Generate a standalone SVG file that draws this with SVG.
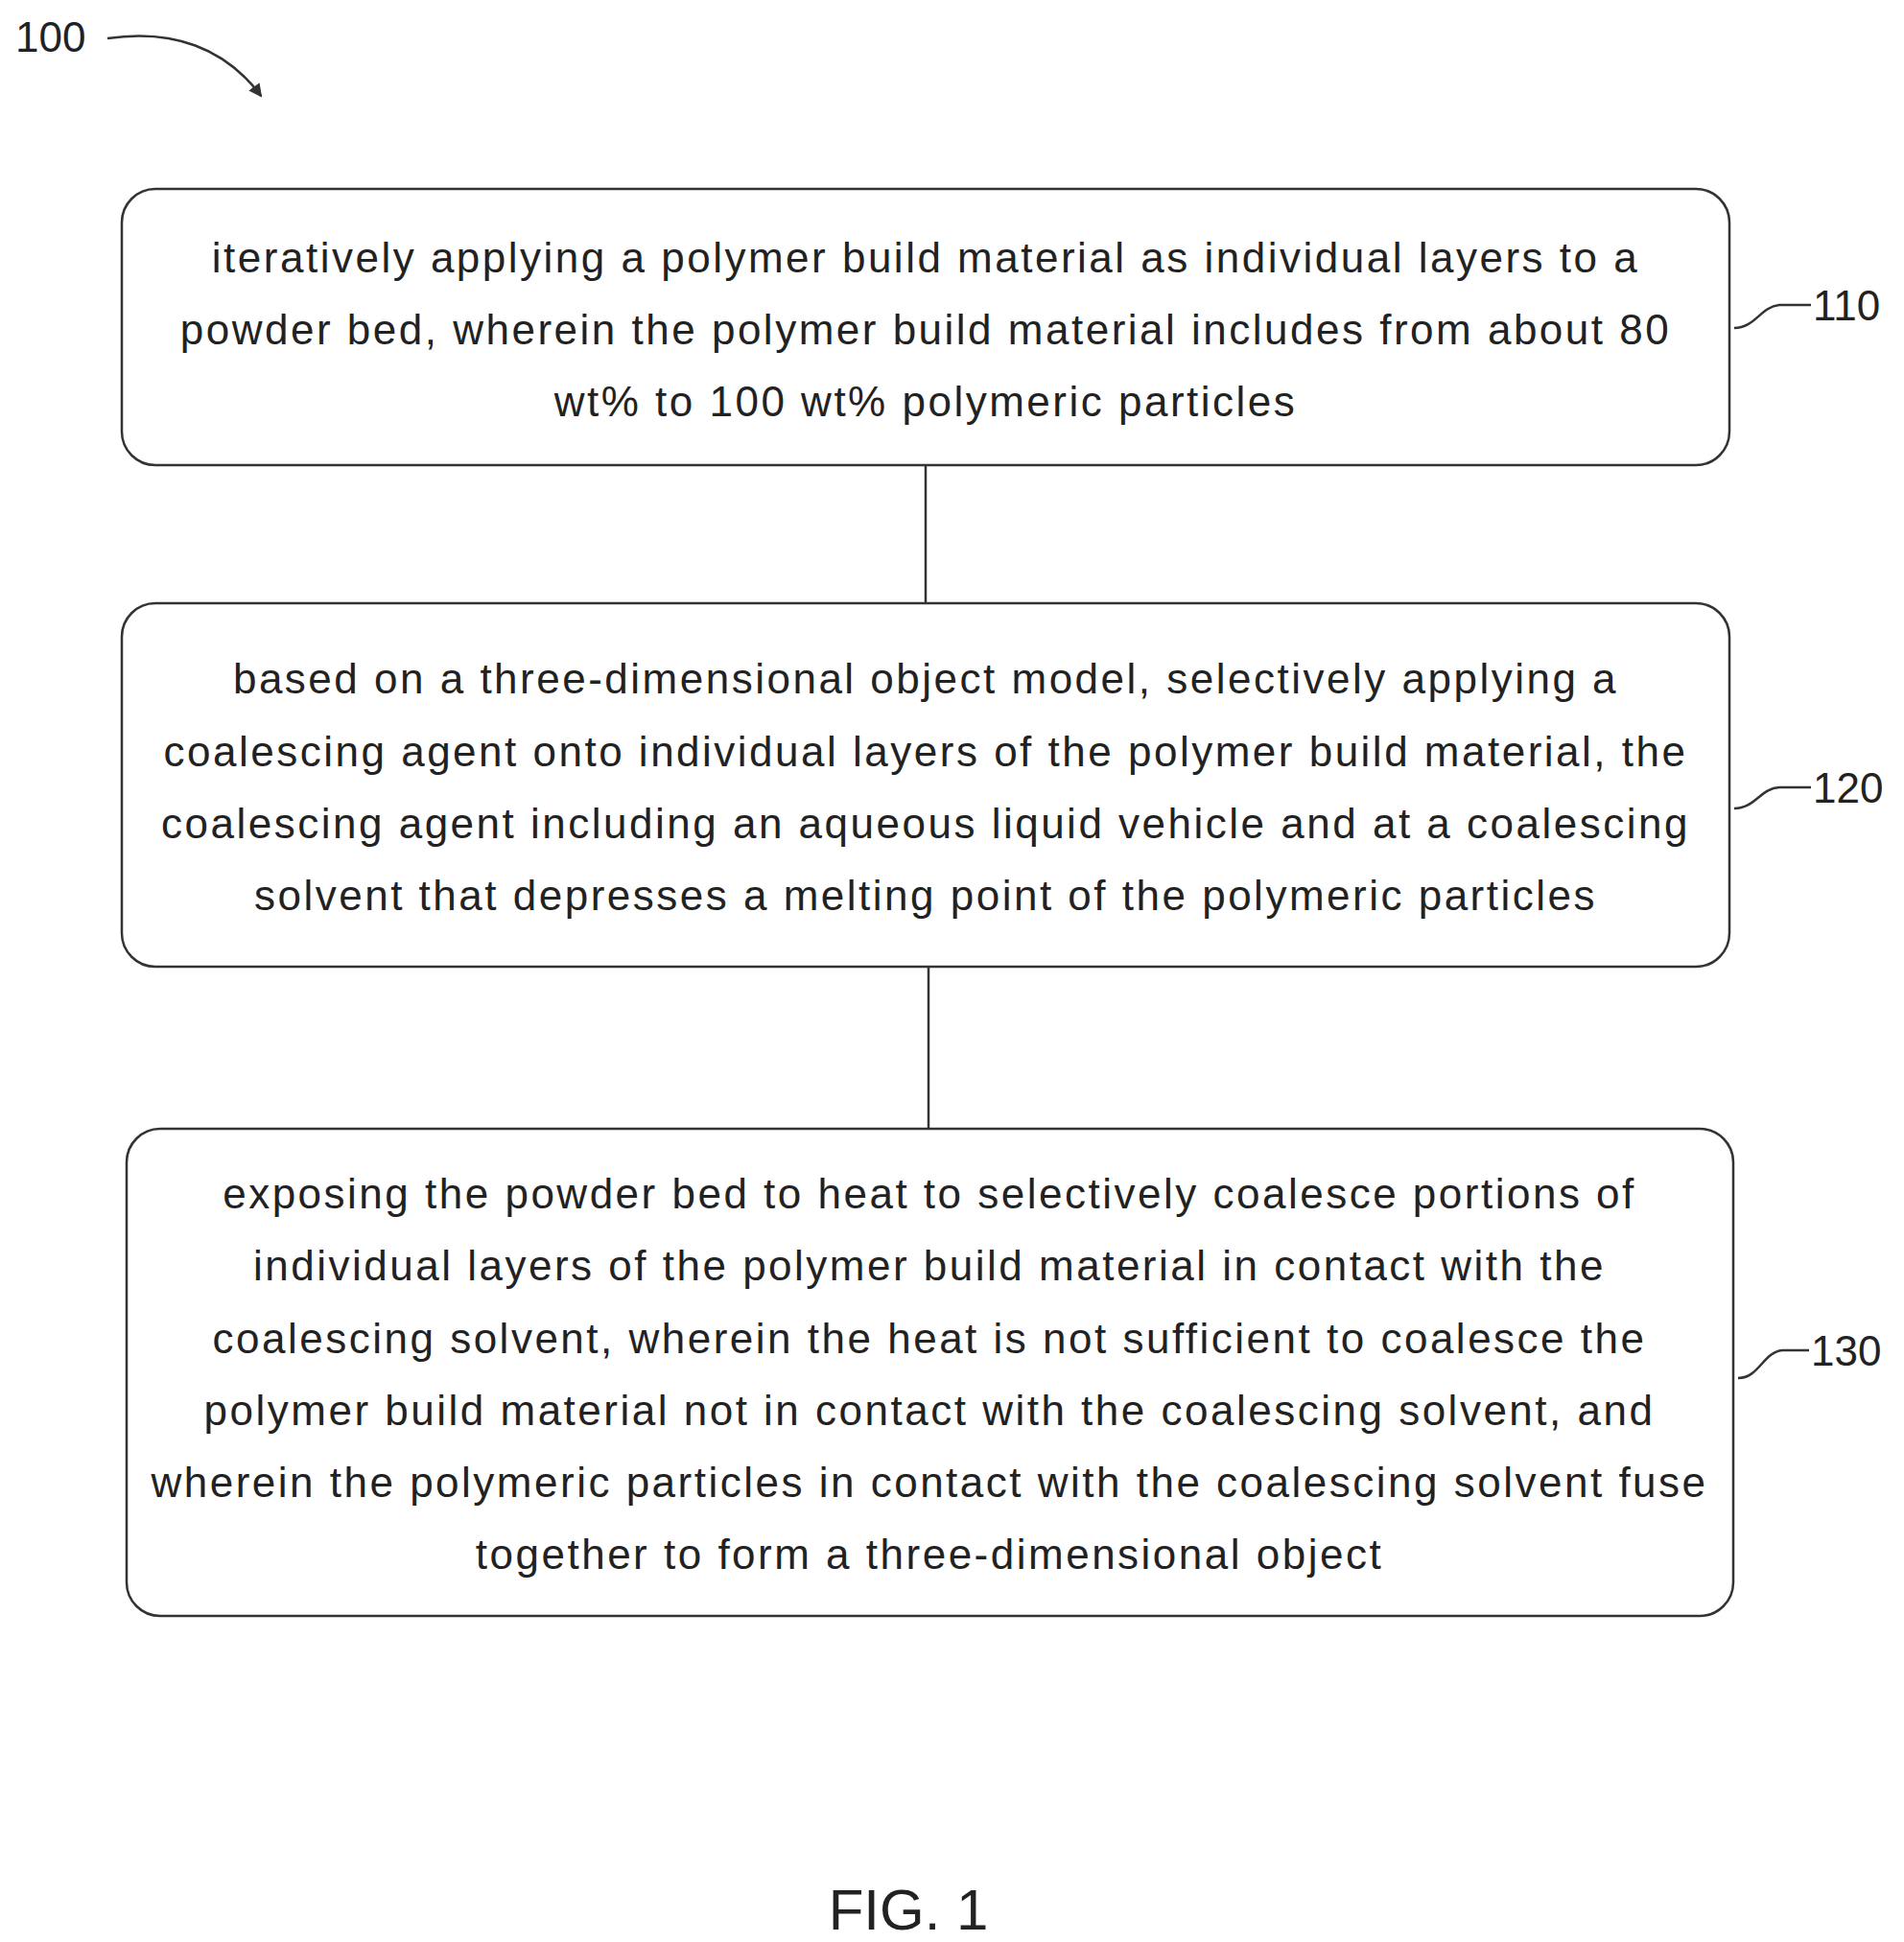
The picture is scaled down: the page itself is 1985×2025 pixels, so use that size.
<svg xmlns="http://www.w3.org/2000/svg" width="1985" height="2025" viewBox="0 0 1985 2025">
<style>
.box{fill:#fff;stroke:#333;stroke-width:2.5}
.t{font-family:"Liberation Sans",Arial,sans-serif;font-size:44px;fill:#222;text-anchor:middle;letter-spacing:2.5px}
.lbl{font-family:"Liberation Sans",Arial,sans-serif;font-size:44px;fill:#222}
.ln{fill:none;stroke:#333;stroke-width:2.5}
</style>
<defs><marker id="ah" markerWidth="14" markerHeight="14" refX="12" refY="7" orient="auto" markerUnits="userSpaceOnUse"><path d="M0,0 L14,7 L0,14 Z" fill="#333"/></marker></defs>
<rect width="1985" height="2025" fill="#fff"/>
<g id="ref100"><text class="lbl" x="16" y="54">100</text><path class="ln" d="M112,40 C180,30 235,50 272,100" marker-end="url(#ah)"/></g>
<g id="connectors"><line class="ln" x1="965" y1="485" x2="965" y2="629"/><line class="ln" x1="968" y1="1008" x2="968" y2="1177"/></g>
<g id="n110"><rect class="box" x="127" y="197" width="1676" height="288" rx="35"/>
<text class="t" x="965" y="284">iteratively applying a polymer build material as individual layers to a</text>
<text class="t" x="965" y="359">powder bed, wherein the polymer build material includes from about 80</text>
<text class="t" x="965" y="434">wt% to 100 wt% polymeric particles</text>
<path class="ln" d="M1808,342 C1830,342 1835,320 1855,318 L1888,318"/><text class="lbl" x="1890" y="334">110</text></g>
<g id="n120"><rect class="box" x="127" y="629" width="1676" height="379" rx="35"/>
<text class="t" x="965" y="723">based on a three-dimensional object model, selectively applying a</text>
<text class="t" x="965" y="799">coalescing agent onto individual layers of the polymer build material, the</text>
<text class="t" x="965" y="874">coalescing agent including an aqueous liquid vehicle and at a coalescing</text>
<text class="t" x="965" y="949">solvent that depresses a melting point of the polymeric particles</text>
<path class="ln" d="M1808,843 C1830,843 1835,822 1855,821 L1888,821"/><text class="lbl" x="1890" y="837">120</text></g>
<g id="n130"><rect class="box" x="132" y="1177" width="1675" height="508" rx="35"/>
<text class="t" x="969" y="1260">exposing the powder bed to heat to selectively coalesce portions of</text>
<text class="t" x="969" y="1335">individual layers of the polymer build material in contact with the</text>
<text class="t" x="969" y="1411">coalescing solvent, wherein the heat is not sufficient to coalesce the</text>
<text class="t" x="969" y="1486">polymer build material not in contact with the coalescing solvent, and</text>
<text class="t" x="969" y="1561">wherein the polymeric particles in contact with the coalescing solvent fuse</text>
<text class="t" x="969" y="1636">together to form a three-dimensional object</text>
<path class="ln" d="M1812,1437 C1834,1437 1838,1410 1858,1408 L1886,1408"/><text class="lbl" x="1888" y="1424">130</text></g>
<g id="fig"><text class="t" style="font-size:60px;letter-spacing:0" x="947" y="2012">FIG. 1</text></g>
</svg>
